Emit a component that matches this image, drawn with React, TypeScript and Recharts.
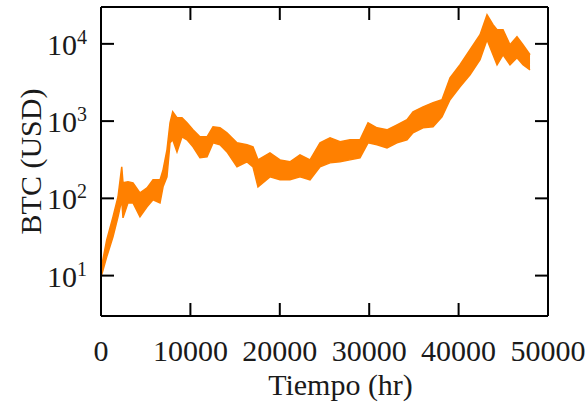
import React from 'react';
import { ComposedChart, Area, XAxis, YAxis } from 'recharts';

// hours since start, lower and upper edge of the noisy price band (USD)
const hours = [
  0, 640, 1340, 1900, 2320, 2460, 3020, 3580, 4360, 5150,
  5820, 6600, 6940, 7380, 7720, 8020, 8500, 9060, 9620, 10290,
  11070, 11860, 12530, 13310, 14090, 15210, 16330, 17000, 17560, 18900,
  20020, 21140, 22260, 23380, 24500, 25620, 26740, 27850, 28970, 29870,
  30870, 31990, 33110, 34230, 34900, 36020, 37140, 38140, 39040, 40160,
  41280, 42400, 43180, 43850, 44300, 44970, 45750, 46530, 47200, 47990,
];
const lows = [
  9.5, 17.5, 31.7, 57.6, 95.6, 55.9, 87.4, 87.4, 57.6, 77.6,
  96, 87.4, 141, 190, 523, 573, 400, 626, 573, 465,
  335, 345, 523, 493, 400, 256, 297, 256, 141, 190,
  174, 174, 190, 174, 256, 288, 297, 315, 335, 523,
  493, 451, 523, 573, 705, 819, 844, 1137, 1888, 2781,
  3979, 6225, 11300, 7225, 5360, 7225, 5360, 6610, 5360, 4620,
];
const highs = [
  12, 29, 57.6, 104, 256, 158.8, 163.6, 158.8, 117.8, 136.8,
  173.6, 173.6, 233.9, 425, 950, 1319, 1104, 1104, 950, 771,
  626, 626, 844, 819, 705, 523, 493, 465, 315, 388,
  315, 297, 366, 315, 523, 608, 540, 573, 573, 950,
  819, 771, 895, 1040, 1319, 1531, 1726, 1888, 3639, 5360,
  8390, 13120, 23830, 17680, 15230, 15230, 9740, 12360, 9740, 7225,
];

const xTicks = [0, 10000, 20000, 30000, 40000, 50000];
const yTicks = [10, 100, 1000, 10000];

const data = hours.map((h, i) => ({ h, band: [lows[i], highs[i]] }));

const FONT = '"Liberation Serif", "DejaVu Serif", serif';
const INK = '#1a1a1a';
const ORANGE = '#ff8000';

const axisLine = { stroke: '#000', strokeWidth: 2 };

const XTick = (props: any) => {
  const { x, y, payload } = props;
  return (
    <text x={x} y={y} textAnchor="middle" fontFamily={FONT} fontSize={30} fill={INK}>
      {payload.value}
    </text>
  );
};

const YTick = (props: any) => {
  const { x, y, payload } = props;
  const exp = Math.round(Math.log10(payload.value));
  return (
    <text x={x} y={y + 11} textAnchor="end" fontFamily={FONT} fontSize={30} fill={INK}>
      10
      <tspan fontSize={20} dy={-11}>{exp}</tspan>
    </text>
  );
};

const Empty = () => <g />;

export default function App() {
  return (
    <div style={{ position: 'absolute', left: 0, top: 0, width: 588, height: 405, background: '#fff' }}>
      <ComposedChart
        width={588}
        height={405}
        data={data}
        margin={{ top: 6, right: 39, bottom: 0, left: 0 }}
      >
        <XAxis
          dataKey="h"
          type="number"
          domain={[0, 50000]}
          ticks={xTicks}
          allowDataOverflow
          height={89}
          axisLine={axisLine}
          tickLine={axisLine}
          tickSize={-13}
          tickMargin={58}
          tick={<XTick />}
          interval={0}
          label={{
            content: (p: any) => {
              const vb = p.viewBox || { x: 101, width: 447, y: 316, height: 89 };
              return (
                <text
                  x={vb.x + vb.width / 2 + 16}
                  y={vb.y + vb.height - 10}
                  textAnchor="middle"
                  fontFamily={FONT}
                  fontSize={30}
                  fill={INK}
                >
                  Tiempo (hr)
                </text>
              );
            },
          }}
        />
        <XAxis
          xAxisId="top"
          orientation="top"
          dataKey="h"
          type="number"
          domain={[0, 50000]}
          ticks={xTicks}
          allowDataOverflow
          height={1}
          axisLine={axisLine}
          tickLine={axisLine}
          tickSize={-13}
          tick={<Empty />}
          interval={0}
        />
        <YAxis
          scale="log"
          type="number"
          domain={[3, 30000]}
          ticks={yTicks}
          allowDataOverflow
          width={101}
          axisLine={axisLine}
          tickLine={axisLine}
          tickSize={-13}
          tickMargin={27}
          tick={<YTick />}
          interval={0}
          label={{
            content: (p: any) => {
              const vb = p.viewBox || { y: 7, height: 309 };
              const cy = vb.y + vb.height / 2;
              return (
                <text
                  transform={`translate(41, ${cy}) rotate(-90)`}
                  textAnchor="middle"
                  fontFamily={FONT}
                  fontSize={30}
                  fill={INK}
                >
                  BTC (USD)
                </text>
              );
            },
          }}
        />
        <YAxis
          yAxisId="right"
          orientation="right"
          scale="log"
          type="number"
          domain={[3, 30000]}
          ticks={yTicks}
          allowDataOverflow
          width={1}
          axisLine={axisLine}
          tickLine={axisLine}
          tickSize={-13}
          tick={<Empty />}
          interval={0}
        />
        <Area
          type="linear"
          dataKey="band"
          stroke={ORANGE}
          strokeWidth={1.5}
          fill={ORANGE}
          fillOpacity={1}
          dot={false}
          activeDot={false}
          isAnimationActive={false}
        />
      </ComposedChart>
    </div>
  );
}
